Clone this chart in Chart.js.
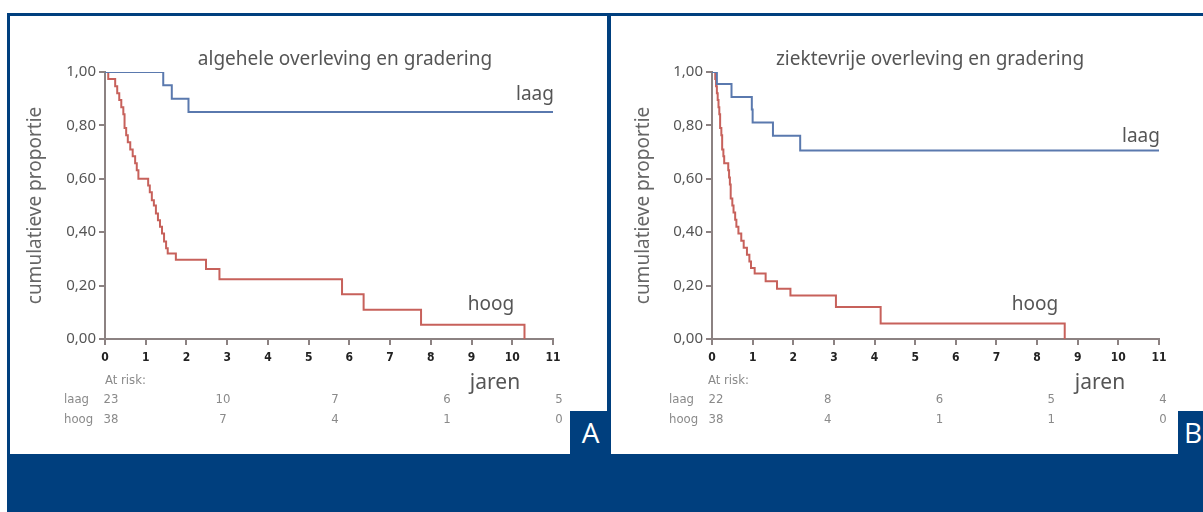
<!DOCTYPE html>
<html>
<head>
<meta charset="utf-8">
<script src="https://cdn.jsdelivr.net/npm/chart.js@4.4.1/dist/chart.umd.min.js"></script>
<style>
  html, body { margin: 0; padding: 0; background: #fff; }
  body { width: 1203px; height: 512px; position: relative; overflow: hidden; }
  #frame { position: absolute; left: 7px; top: 13px; width: 1196px; height: 499px; background: #003f7e; }
  .panel { position: absolute; top: 16px; height: 438px; background: #fff; }
  #panelA { left: 10px; width: 597px; }
  #panelB { left: 611px; width: 592px; }
  .tag { position: absolute; top: 411px; height: 43px; background: #003f7e; color: #fff;
         font: 28px 'Open Sans', sans-serif; line-height: 43px; overflow: hidden; }
  #tagA { left: 570px; width: 41px; text-align: center; }
  #tagB { left: 1178px; width: 25px; padding-left: 6px; box-sizing: border-box; }
</style>
</head>
<body>
<div id="frame"></div>
<div class="panel" id="panelA"><canvas id="chartA" width="597" height="438"></canvas></div>
<div class="panel" id="panelB"><canvas id="chartB" width="592" height="438"></canvas></div>
<div class="tag" id="tagA">A</div>
<div class="tag" id="tagB">B</div>
<script>
// x axis ticks (jaren) and y axis ticks
const yearTicks = [0, 1, 2, 3, 4, 5, 6, 7, 8, 9, 10, 11];
const propTicks = [0, 0.2, 0.4, 0.6, 0.8, 1.0];

// A: algehele overleving (time in years, survival after the step)
const laagA_t = [0, 1.43, 1.64, 2.05, 11];
const laagA_s = [1, 0.95, 0.90, 0.85, 0.85];
const hoogA_t = [0, 0.08, 0.25, 0.30, 0.35, 0.40, 0.45, 0.48, 0.52, 0.56, 0.62, 0.68, 0.74, 0.78, 0.82,
                 1.06, 1.10, 1.15, 1.20, 1.25, 1.30, 1.35, 1.40, 1.45, 1.50, 1.54, 1.74, 2.48, 2.81,
                 5.82, 6.35, 7.76, 10.3];
const hoogA_s = [1, 0.974, 0.947, 0.92, 0.895, 0.868, 0.842, 0.79, 0.763, 0.737, 0.71, 0.684, 0.658, 0.632, 0.60,
                 0.575, 0.55, 0.52, 0.50, 0.47, 0.445, 0.42, 0.395, 0.365, 0.34, 0.32, 0.297, 0.262, 0.224,
                 0.168, 0.11, 0.053, 0];

// B: ziektevrije overleving
const laagB_t = [0, 0.12, 0.48, 0.98, 1.0, 1.5, 2.17, 11];
const laagB_s = [1, 0.955, 0.906, 0.86, 0.811, 0.761, 0.706, 0.706];
const hoogB_t = [0, 0.08, 0.10, 0.12, 0.14, 0.16, 0.18, 0.20, 0.23, 0.25, 0.28, 0.30, 0.40, 0.42, 0.44,
                 0.46, 0.50, 0.53, 0.57, 0.60, 0.65, 0.72, 0.78, 0.86, 0.92, 0.96, 1.05, 1.32, 1.60, 1.93,
                 3.05, 4.15, 8.68];
const hoogB_s = [1, 0.974, 0.947, 0.92, 0.895, 0.868, 0.842, 0.79, 0.763, 0.71, 0.684, 0.658, 0.632, 0.605, 0.579,
                 0.526, 0.50, 0.474, 0.447, 0.42, 0.395, 0.368, 0.342, 0.316, 0.29, 0.266, 0.245, 0.216, 0.188, 0.163,
                 0.12, 0.058, 0];

// numbers at risk
const riskLaagA = ['23', '10', '7', '6', '5'];
const riskHoogA = ['38', '7', '4', '1', '0'];
const riskLaagB = ['22', '8', '6', '5', '4'];
const riskHoogB = ['38', '4', '1', '1', '0'];

const BLUE = '#5a79ae';
const RED = '#c7615b';
const AXIS = '#8c8282';
const TEXT = '#555';

function toPoints(t, s) {
  return t.map((v, i) => ({ x: v, y: s[i] }));
}

const kmLabels = {
  id: 'kmLabels',
  afterDraw(chart, args, o) {
    const { ctx } = chart;
    const x = chart.scales.x;
    ctx.save();
    ctx.fillStyle = TEXT;
    ctx.textBaseline = 'middle';
    ctx.textAlign = 'center';
    ctx.font = '19px "Noto Sans"';
    ctx.fillText(o.title, o.titlePos[0], o.titlePos[1]);
    ctx.fillText('laag', o.laagPos[0], o.laagPos[1]);
    ctx.fillText('hoog', o.hoogPos[0], o.hoogPos[1]);
    ctx.font = '21px "Noto Sans"';
    ctx.fillText('jaren', o.jarenPos[0], o.jarenPos[1]);

    // at risk table
    ctx.fillStyle = '#8a8a8a';
    ctx.font = '13px "DejaVu Sans Condensed", "Noto Sans"';
    ctx.textAlign = 'left';
    ctx.fillText('At risk:', o.riskX, o.riskY);
    ctx.fillText('laag', o.rowX, o.riskY + 19);
    ctx.fillText('hoog', o.rowX, o.riskY + 39);
    ctx.textAlign = 'center';
    const step = (x.right - x.left) / 4;
    o.laag.forEach((v, i) => ctx.fillText(v, x.left + i * step + o.riskOff, o.riskY + 19));
    o.hoog.forEach((v, i) => ctx.fillText(v, x.left + i * step + o.riskOff, o.riskY + 39));
    ctx.restore();
  }
};

function makeChart(id, laag, hoog, labels, pad, titlePad) {
  return new Chart(document.getElementById(id), {
    type: 'line',
    data: {
      datasets: [
        { data: laag, borderColor: BLUE, borderWidth: 2, stepped: 'before', pointRadius: 0, fill: false },
        { data: hoog, borderColor: RED, borderWidth: 2, stepped: 'before', pointRadius: 0, fill: false }
      ]
    },
    options: {
      responsive: false,
      animation: false,
      layout: { padding: pad },
      plugins: { legend: { display: false }, tooltip: { enabled: false }, kmLabels: labels },
      scales: {
        x: {
          type: 'linear', min: 0, max: 11,
          afterBuildTicks: s => { s.ticks = yearTicks.map(v => ({ value: v })); },
          afterFit: s => { s.height = 40; },
          grid: { display: true, drawOnChartArea: false, drawTicks: true, tickLength: 6, color: AXIS, lineWidth: 2 },
          border: { display: true, color: AXIS, width: 2 },
          ticks: { color: '#222', padding: 6, maxRotation: 0, font: { family: '"DejaVu Sans Condensed", "Noto Sans"', size: 12, weight: 'bold' } }
        },
        y: {
          min: 0, max: 1,
          afterBuildTicks: s => { s.ticks = propTicks.map(v => ({ value: v })); },
          afterFit: s => { s.width = pad.yw; },
          grid: { display: true, drawOnChartArea: false, drawTicks: true, tickLength: 6, color: AXIS, lineWidth: 2 },
          border: { display: true, color: AXIS, width: 2 },
          ticks: { color: TEXT, padding: 3, font: { family: '"Noto Sans"', size: 15 },
                   callback: v => v.toFixed(2).replace('.', ',') },
          title: { display: true, text: 'cumulatieve proportie', color: '#666',
                   font: { family: '"Noto Sans"', size: 19 }, padding: { top: titlePad, bottom: 0 } }
        }
      }
    },
    plugins: [kmLabels]
  });
}

makeChart('chartA', toPoints(laagA_t, laagA_s), toPoints(hoogA_t, hoogA_s), {
  title: 'algehele overleving en gradering', titlePos: [335, 44],
  laagPos: [525, 79], hoogPos: [481, 289], jarenPos: [485, 367],
  riskX: 95, riskY: 365, rowX: 54, riskOff: 6, laag: riskLaagA, hoog: riskHoogA
}, { left: 0, top: 56, right: 54, bottom: 75, yw: 95 }, 14);

makeChart('chartB', toPoints(laagB_t, laagB_s), toPoints(hoogB_t, hoogB_s), {
  title: 'ziektevrije overleving en gradering', titlePos: [319, 44],
  laagPos: [530, 121], hoogPos: [424, 289], jarenPos: [489, 367],
  riskX: 97, riskY: 365, rowX: 58, riskOff: 4, laag: riskLaagB, hoog: riskHoogB
}, { left: 0, top: 56, right: 44, bottom: 75, yw: 101 }, 21);
</script>
</body>
</html>
